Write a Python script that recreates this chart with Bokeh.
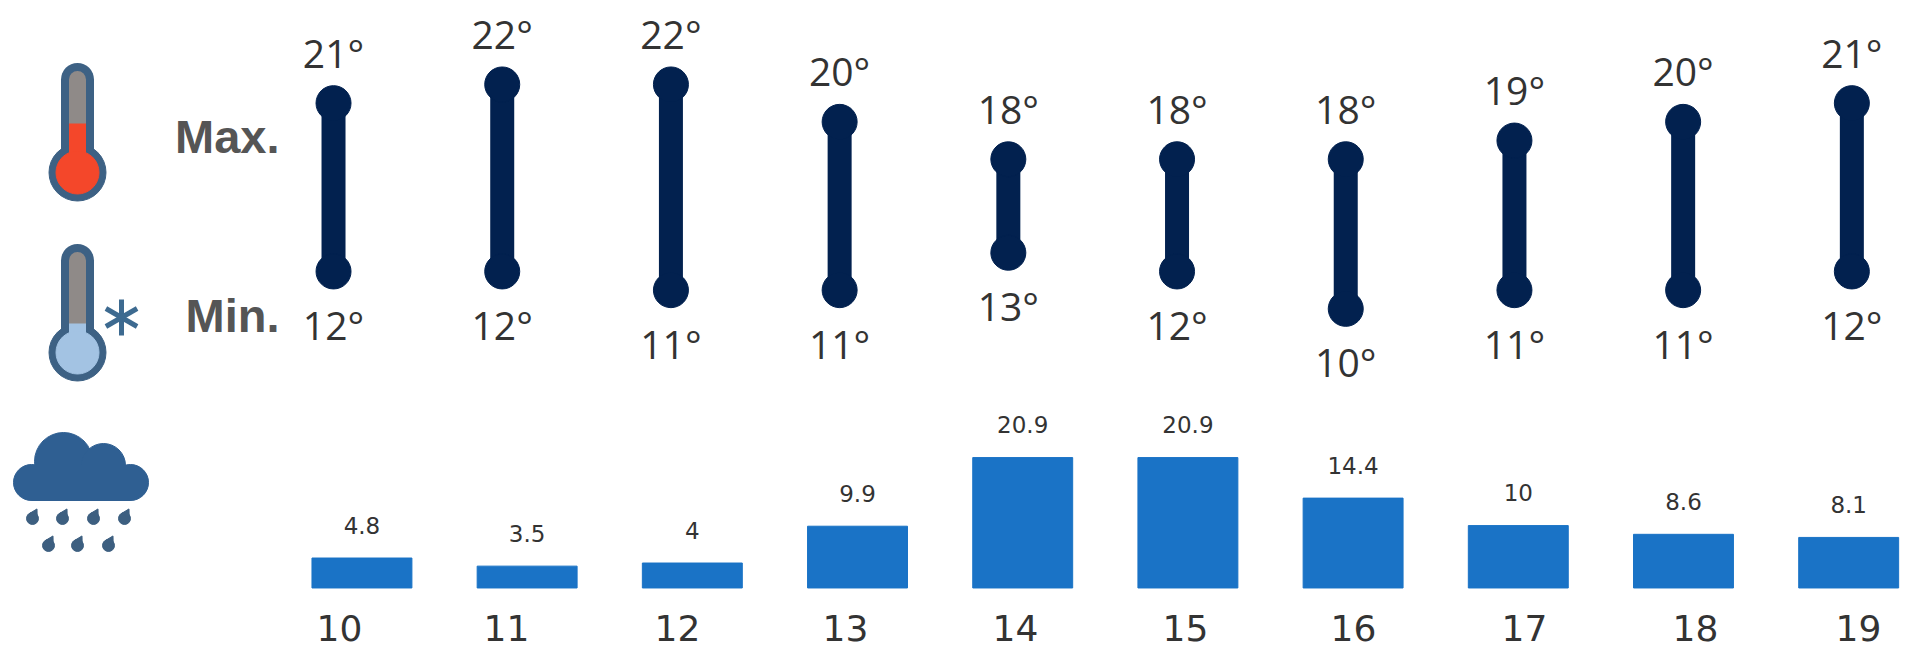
import math
from bokeh.plotting import figure
from bokeh.models import Range1d, ColumnDataSource
from bokeh.core.properties import value
from bokeh.embed import file_html
from bokeh.resources import INLINE

# ---- data ----
days = [10, 11, 12, 13, 14, 15, 16, 17, 18, 19]
temp_max = [21, 22, 22, 20, 18, 18, 18, 19, 20, 21]
temp_min = [12, 12, 11, 11, 13, 12, 10, 11, 11, 12]
rain = [4.8, 3.5, 4, 9.9, 20.9, 20.9, 14.4, 10, 8.6, 8.1]
rain_labels = ["4.8", "3.5", "4", "9.9", "20.9", "20.9", "14.4", "10", "8.6", "8.1"]

# ---- layout (page pixels) ----
W, H = 1905, 650
day_label_x = [339, 506, 677, 845, 1015, 1185, 1353, 1524, 1695, 1858]

NAVY = "#02214f"
BLUE = "#1a73c6"
INK = "#333333"
ICON = "#3d6184"

p = figure(width=W, height=H, output_backend="svg", toolbar_location=None,
           x_range=Range1d(8.026, 19.318), y_range=Range1d(-8.27, 26.49),
           min_border=0, outline_line_color=None)
p.axis.visible = False
p.grid.visible = False
p.background_fill_color = "white"
p.border_fill_color = "white"
p.extra_x_ranges = {"rainx": Range1d(7.812, 19.344), "px": Range1d(0, W)}
p.extra_y_ranges = {"rainy": Range1d(-10.02, 94.15), "px": Range1d(H, 0)}

# ---- temperature ranges ----
src = ColumnDataSource(dict(
    day=days, hi=temp_max, lo=temp_min,
    hi_t=[f"{v}°" for v in temp_max], lo_t=[f"{v}°" for v in temp_min]))
p.segment("day", "lo", "day", "hi", source=src, line_color=NAVY, line_width=24)
p.scatter("day", "hi", source=src, size=35, color=NAVY)
p.scatter("day", "lo", source=src, size=35, color=NAVY)
TEMP_FONT = dict(text_font=value("Open Sans"), text_font_size="39px", text_color=INK,
                 text_align="center", text_baseline="middle")
p.text("day", "hi", text="hi_t", source=src, y_offset=-51, **TEMP_FONT)
p.text("day", "lo", text="lo_t", source=src, y_offset=53, **TEMP_FONT)

# ---- rain bars ----
rsrc = ColumnDataSource(dict(day=days, rain=rain, lab=rain_labels))
p.vbar(x="day", top="rain", bottom=0, width=0.605, source=rsrc, color=BLUE,
       x_range_name="rainx", y_range_name="rainy")
p.text("day", "rain", text="lab", source=rsrc, x_range_name="rainx", y_range_name="rainy",
       y_offset=-33, text_font=value("DejaVu Sans"), text_font_size="23px", text_color=INK,
       text_align="center", text_baseline="middle")

# ---- day labels ----
dsrc = ColumnDataSource(dict(x=day_label_x, y=[627] * len(days), t=[str(d) for d in days]))
p.text("x", "y", text="t", source=dsrc, x_range_name="px", y_range_name="px",
       text_font=value("DejaVu Sans"), text_font_size="36px", text_color=INK,
       text_align="center", text_baseline="middle")

# ---- side labels ----
PX = dict(x_range_name="px", y_range_name="px")
for txt, y in (("Max.", 136), ("Min.", 315)):
    p.text([279], [y], text=[txt], text_font=value("Liberation Sans"), text_font_style="bold",
           text_font_size="47px", text_color="#555555", text_align="right",
           text_baseline="middle", **PX)


def thermometer(top, bulb_y, fill, fill_top):
    x = 77
    p.line([x, x], [top + 17, bulb_y], line_color=ICON, line_width=33, line_cap="round", **PX)
    p.scatter([x], [bulb_y], size=57, color=ICON, **PX)
    p.line([x, x], [top + 17, bulb_y], line_color="#8f8a88", line_width=17, line_cap="round", **PX)
    p.line([x, x], [fill_top, bulb_y], line_color=fill, line_width=17, **PX)
    p.scatter([x], [bulb_y], size=43, color=fill, **PX)


thermometer(62, 172, "#f4472a", 123)
thermometer(243, 352, "#a3c3e3", 323)
for deg in (90, 30, -30):
    dx, dy = 18 * math.cos(math.radians(deg)), 18 * math.sin(math.radians(deg))
    p.line([121 - dx, 121 + dx], [317 - dy, 317 + dy], line_color="#3d6a90", line_width=5, **PX)

# ---- cloud icon ----
CLOUD = "#2f5f92"
p.scatter([31, 130], [482, 482], size=36, color=CLOUD, **PX)
p.scatter([63], [461], size=58, color=CLOUD, **PX)
p.scatter([103], [465], size=44, color=CLOUD, **PX)
p.quad(left=[31], right=[130], top=[465], bottom=[500], color=CLOUD, **PX)
drop_x = [32, 62, 93, 124, 48, 77, 108]
drop_y = [518, 518, 518, 518, 545, 545, 545]
p.scatter(drop_x, drop_y, size=12, color="#3d5f80", **PX)
p.scatter([x + 2 for x in drop_x], [y - 5 for y in drop_y], marker="triangle", size=9,
          angle=-0.5, color="#3d5f80", **PX)

open("out.html", "w").write(file_html(p, INLINE))
